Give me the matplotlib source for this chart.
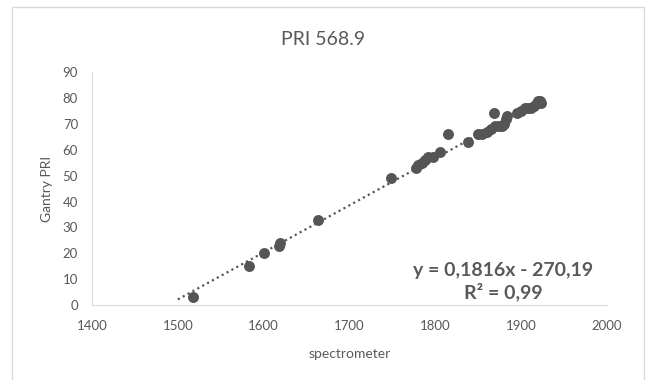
import matplotlib.pyplot as plt
from matplotlib.patches import Rectangle
import numpy as np

# values
spectrometer = [1518, 1583, 1600, 1618, 1619, 1663, 1748,
                1778, 1780, 1784, 1788, 1792, 1797, 1805, 1815, 1838,
                1850, 1855, 1860, 1865, 1869, 1870, 1874, 1878, 1880, 1882, 1884,
                1895, 1900, 1904, 1908, 1912, 1915, 1918, 1920, 1922, 1923]
gantry_pri = [3, 15, 20, 23, 24, 33, 49,
              53, 54, 55, 56, 57, 57, 59, 66, 63,
              66, 66, 67, 68, 74, 69, 69, 69, 70, 72, 73,
              74, 75, 76, 76, 76, 77, 78, 79, 79, 78]
slope, intercept = 0.1816, -270.19
trend_x = [1500, 1925]

gray = '#595959'
plt.rcParams['font.family'] = ['Lato', 'DejaVu Sans']

fig = plt.figure(figsize=(6.47, 3.80), dpi=100)
ax = fig.add_axes([0.1422, 0.197, 0.7958, 0.6135])

# chart area border
fig.patches.append(Rectangle((12 / 647, -0.01), 632 / 647, 1 - 7 / 380 + 0.01,
                             transform=fig.transFigure, fill=False,
                             edgecolor='#d9d9d9', linewidth=1))

tx = np.array(trend_x)
ax.plot(tx, slope * tx + intercept, linestyle=(0, (1, 1.5)), color=gray, linewidth=1.6, zorder=2)
ax.scatter(spectrometer, gantry_pri, s=62, color='#555555', zorder=3, linewidths=0)

ax.set_xlim(1400, 2000)
ax.set_ylim(0, 90)
ax.set_xticks(range(1400, 2001, 100))
ax.set_yticks(range(0, 91, 10))
ax.tick_params(length=0, labelsize=9.5, labelcolor=gray)
ax.tick_params(axis='x', pad=11)
ax.tick_params(axis='y', pad=10)
for s in ['top', 'right']:
    ax.spines[s].set_visible(False)
for s in ['left', 'bottom']:
    ax.spines[s].set_color('#d9d9d9')
ax.set_xlabel('spectrometer', fontsize=10, color=gray, labelpad=11)
ax.set_ylabel('Gantry PRI', fontsize=10, color=gray, labelpad=7)
fig.text(0.5, 0.895, 'PRI 568.9', fontsize=14, color=gray, ha='center', va='center')

ax.text(0.973, 0.10, 'y = 0,1816x - 270,19\nR² = 0,99', transform=ax.transAxes,
        ha='right', va='center', multialignment='center', fontsize=14,
        fontweight='bold', color=gray, linespacing=1.2)

fig.savefig('out.png', dpi=100)
